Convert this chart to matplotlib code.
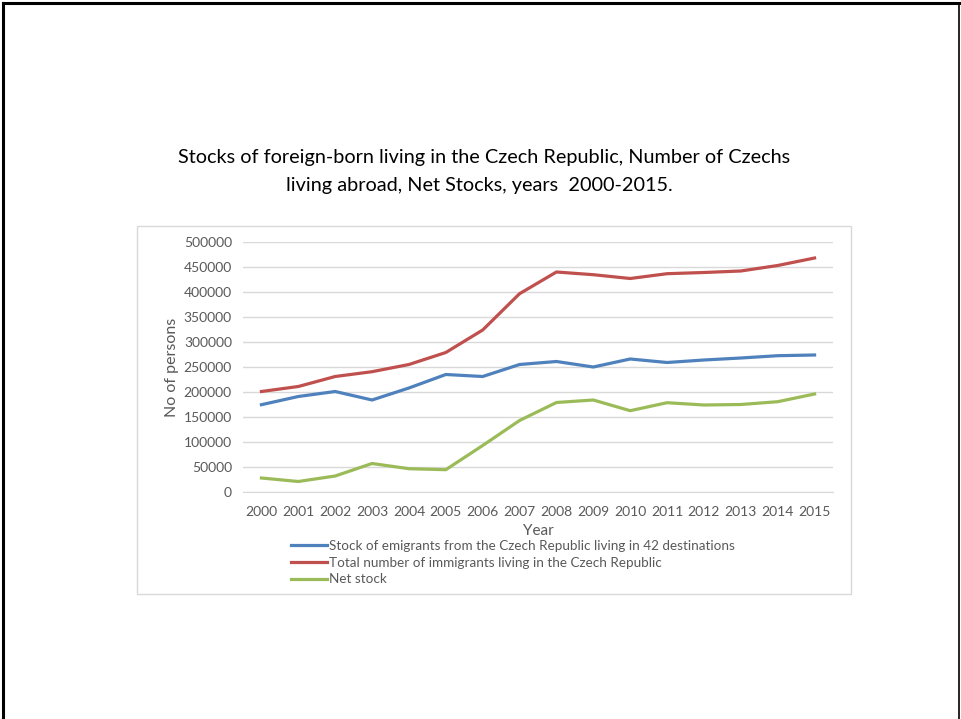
import matplotlib.pyplot as plt
from matplotlib.lines import Line2D
from matplotlib.patches import Rectangle

plt.rcParams['font.family'] = ['Lato', 'DejaVu Sans']

years = list(range(2000, 2016))
emigrants = [174600, 191000, 201000, 184000, 208000, 235000, 231000, 255000,
             261000, 250000, 266000, 259000, 264000, 268000, 272600, 274000]
immigrants = [201000, 211000, 231000, 240600, 255000, 279000, 324000, 396600,
              440000, 434600, 427000, 436600, 439000, 442000, 453000, 468000]
net_stock = [28000, 21000, 32000, 57000, 46600, 44600, 93000, 143000,
             179000, 184000, 162600, 178600, 174000, 175000, 180600, 196000]

labels = ['Stock of emigrants from the Czech Republic living in 42 destinations',
          'Total number of immigrants living in the Czech Republic',
          'Net stock']
colors = ['#4F81BD', '#C0504D', '#9BBB59']
yticks = list(range(0, 500001, 50000))

W, H = 961, 719
fig = plt.figure(figsize=(W / 100, H / 100), dpi=100)

# slide border (black, bottom edge cut off)
fig.add_artist(Line2D([2.5 / W, 2.5 / W], [0, 1 - 2.5 / H], color='black', lw=2.2,
                      transform=fig.transFigure))
fig.add_artist(Line2D([2.5 / W, 958.5 / W], [1 - 2.5 / H, 1 - 2.5 / H], color='black', lw=2.2,
                      transform=fig.transFigure))
fig.add_artist(Line2D([958.5 / W, 958.5 / W], [0, 1 - 2.5 / H], color='black', lw=1.2,
                      transform=fig.transFigure))

# chart frame
fig.add_artist(Rectangle((137 / W, 1 - 594 / H), (851 - 137) / W, (594 - 226) / H,
                         transform=fig.transFigure, fill=False, edgecolor='#d9d9d9', lw=1))

fig.text(484 / W, 1 - 158 / H, 'Stocks of foreign-born living in the Czech Republic, Number of Czechs',
         ha='center', va='center', fontsize=14.3, color='black')
fig.text(479 / W, 1 - 186 / H, 'living abroad, Net Stocks, years  2000-2015.',
         ha='center', va='center', fontsize=14.3, color='black')

ax = fig.add_axes([243 / W, 1 - 492 / H, (833 - 243) / W, (492 - 242) / H])
ax.plot(years, emigrants, color=colors[0], lw=2.3)
ax.plot(years, immigrants, color=colors[1], lw=2.3)
ax.plot(years, net_stock, color=colors[2], lw=2.3)

ax.set_xlim(1999.5, 2015.5)
ax.set_ylim(0, 500000)
ax.set_yticks(yticks)
ax.set_yticklabels([str(v) for v in yticks])
ax.set_xticks(years)
ax.grid(axis='y', color='#d9d9d9', lw=1)
ax.set_axisbelow(True)
for s in ['top', 'right', 'left']:
    ax.spines[s].set_visible(False)
ax.spines['bottom'].set_color('#d9d9d9')
ax.tick_params(length=0, labelsize=10, labelcolor='#595959')
ax.tick_params(axis='x', pad=10)
ax.tick_params(axis='y', pad=8)

fig.text(172 / W, 1 - 367 / H, 'No of persons', rotation=90, ha='center', va='center',
         fontsize=11.5, color='#595959')
fig.text(538 / W, 1 - 531 / H, 'Year', ha='center', va='center', fontsize=11, color='#595959')

handles = [Line2D([], [], color=c, lw=2.3) for c in colors]
fig.legend(handles, labels, loc='upper left', bbox_to_anchor=(291 / W, 1 - 540 / H),
           frameon=False, fontsize=9.7, labelcolor='#595959', handlelength=2.7,
           handletextpad=0.15, labelspacing=0.35, borderpad=0, borderaxespad=0)

fig.savefig('out.png', dpi=100, facecolor='white')
